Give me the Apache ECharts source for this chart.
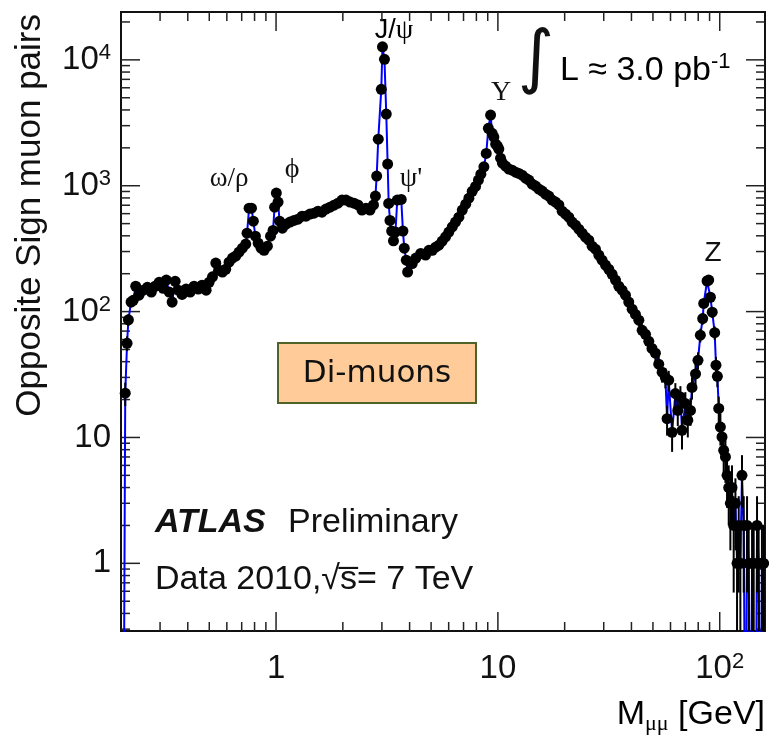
<!DOCTYPE html>
<html>
<head>
<meta charset="utf-8">
<script src="https://cdn.jsdelivr.net/npm/echarts@6/dist/echarts.min.js"></script>
</head>
<body style="margin:0;background:#fff">
<div id="chart" style="width:769px;height:740px"></div>
<script>
// invariant mass bins [GeV] and opposite-sign dimuon counts (0 = empty bin)
var mass = [
  0.205, 0.209, 0.213, 0.216, 0.222, 0.227, 0.233, 0.241, 0.252, 0.263, 0.274, 0.285, 0.297, 0.310, 0.320,
  0.330, 0.340, 0.351, 0.362, 0.377, 0.393, 0.410, 0.427, 0.446, 0.464, 0.484, 0.499, 0.517, 0.535, 0.554,
  0.573, 0.593, 0.614, 0.636, 0.658, 0.681, 0.705, 0.730, 0.740, 0.756, 0.775, 0.790, 0.807, 0.830, 0.856,
  0.883, 0.914, 0.944, 0.969, 0.985, 1.003, 1.021, 1.037, 1.068, 1.109, 1.156, 1.205, 1.256, 1.310, 1.365,
  1.422, 1.483, 1.546, 1.611, 1.679, 1.751, 1.825, 1.902, 1.983, 2.067, 2.155, 2.246, 2.341, 2.440, 2.543,
  2.651, 2.749, 2.805, 2.842, 2.889, 2.981, 3.018, 3.081, 3.139, 3.185, 3.219, 3.263, 3.320, 3.383, 3.453,
  3.519, 3.667, 3.733, 3.784, 3.864, 3.918, 4.015, 4.11, 4.27, 4.49, 4.72, 4.89, 5.06, 5.24, 5.42,
  5.61, 5.81, 6.01, 6.23, 6.44, 6.67, 6.91, 7.16, 7.40, 7.66, 7.93, 8.17, 8.38, 8.65, 8.86,
  9.06, 9.27, 9.42, 9.59, 9.77, 9.95, 10.1, 10.28, 10.48, 10.83, 11.21, 11.60, 12.02, 12.43, 12.87,
  13.33, 13.79, 14.27, 14.79, 15.30, 15.83, 16.40, 16.97, 17.56, 18.19, 18.83, 19.49, 20.18, 20.88, 21.61,
  22.39, 23.17, 23.98, 24.83, 25.70, 26.60, 27.54, 28.51, 29.50, 30.55, 31.62, 32.73, 33.9, 35.08, 36.3,
  37.6, 38.9, 40.3, 41.7, 43.2, 44.7, 46.3, 47.9, 49.5, 51.3, 53.1, 55.0, 56.9, 57.9, 58.9,
  61.0, 63.1, 64.7, 66.5, 67.6, 70.0, 71.8, 73.8, 75.0, 77.8, 79.8, 81.8, 83.8, 84.7, 87.7,
  89.2, 90.8, 92.5, 94.9, 96.2, 97.6, 99.0, 100.7, 102.4, 104.2, 106.1, 107.9, 109.8, 111.7, 113.6,
  115.6, 117.7, 119.7, 121.8, 123.9, 126.0, 128.3, 130.6, 132.8, 135.1, 137.5, 139.9, 142.3, 144.8, 147.3,
  149.8, 152.5, 155.0, 157.8
];
var counts = [
  0, 22.5, 56, 86, 119, 123, 159, 135, 148, 156, 143, 159, 171, 153, 178,
  143, 119, 174, 148, 137, 151, 143, 159, 151, 162, 148, 171, 189, 243, 213,
  206, 217, 247, 266, 276, 297, 319, 344, 420, 663, 663, 523, 397, 350, 319,
  307, 331, 397, 441, 676, 874, 741, 523, 460, 495, 514, 530, 542, 573, 573,
  595, 605, 627, 616, 652, 676, 701, 727, 769, 769, 741, 727, 704, 640, 663,
  640, 704, 827, 1192, 2345, 5830, 12700, 10090, 3710, 1486, 723, 530, 436, 365, 428,
  769, 778, 436, 319, 256, 206, 247, 241, 266, 290, 281, 307, 307, 325, 337,
  363, 393, 428, 472, 514, 563, 640, 714, 796, 902, 988, 1109, 1236, 1413, 1807,
  2857, 3640, 2606, 2433, 2142, 2065, 1954, 1656, 1513, 1432, 1355, 1330, 1282, 1252, 1214,
  1148, 1109, 1030, 993, 940, 906, 857, 827, 769, 741, 704, 628, 595, 563, 514,
  486, 452, 420, 390, 369, 331, 313, 281, 256, 234, 217, 198, 178, 159, 148,
  135, 119, 104.5, 95, 85.4, 71, 66, 58, 51, 46.7, 38.2, 33, 30, 14.1, 28.5,
  11, 22.3, 16.4, 21, 11.4, 18.6, 13.7, 16.4, 25, 32, 41, 65, 88, 116, 175,
  178, 130, 99, 68, 37.5, 30.6, 17, 12.1, 10.1, 7.9, 7, 5, 4, 3, 4,
  2, 3, 1, 2, 1, 5, 2, 0, 2, 1, 0, 1, 1, 0, 2,
  1, 0, 1, 1
];

var xMajor = [1, 10, 100];
var xMinor = [0.3, 0.4, 0.5, 0.6, 0.7, 0.8, 0.9, 2, 3, 4, 5, 6, 7, 8, 9, 20, 30, 40, 50, 60, 70, 80, 90];
var yMajor = [1, 10, 100, 1000, 10000];
var yMinor = [0.3, 0.4, 0.5, 0.6, 0.7, 0.8, 0.9, 2, 3, 4, 5, 6, 7, 8, 9, 20, 30, 40, 50, 60, 70, 80, 90,
  200, 300, 400, 500, 600, 700, 800, 900, 2000, 3000, 4000, 5000, 6000, 7000, 8000, 9000, 20000];

var X_MIN = 0.2, X_MAX = 160, Y_MIN = 0.29, Y_MAX = 24000;
var MAJOR_LEN = 19, MINOR_LEN = 9;
var SANS = 'Liberation Sans, Arial, Helvetica, sans-serif';
var SERIF = 'Liberation Serif, DejaVu Serif, serif';

var points = [], linePts = [];
for (var i = 0; i < mass.length; i++) {
  linePts.push([mass[i], counts[i] > 0 ? counts[i] : 0.01]);
  if (counts[i] > 0) points.push([mass[i], counts[i]]);
}

// tick entries: [x, y, length]
var xTicks = [], yTicks = [];
xMajor.forEach(function (v) { xTicks.push([v, Y_MIN, MAJOR_LEN]); });
xMinor.forEach(function (v) { xTicks.push([v, Y_MIN, MINOR_LEN]); });
yMajor.forEach(function (v) { yTicks.push([X_MIN, v, MAJOR_LEN]); });
yMinor.forEach(function (v) { yTicks.push([X_MIN, v, MINOR_LEN]); });

function powLabel(v) {
  var e = Math.round(Math.log(v) / Math.LN10);
  if (Math.abs(v - Math.pow(10, e)) > 1e-6 * v) return '';
  if (e === 0) return '{b|1}';
  if (e === 1) return '{b|10}';
  return '{b|10}{s|' + e + '}';
}
var labelRich = {
  b: {fontSize: 33, lineHeight: 36, fontFamily: SANS, color: '#111'},
  s: {fontSize: 22, lineHeight: 22, verticalAlign: 'top', fontFamily: SANS, color: '#111'}
};

var tickStyle = {stroke: '#222', lineWidth: 1.5};
function tickRenderer(isX) {
  return function (params, api) {
    var cs = params.coordSys;
    var p = api.coord([api.value(0), api.value(1)]);
    var len = api.value(2);
    var a, b;
    if (isX) {
      a = {x1: p[0], y1: cs.y + cs.height, x2: p[0], y2: cs.y + cs.height - len};
      b = {x1: p[0], y1: cs.y, x2: p[0], y2: cs.y + len};
    } else {
      a = {x1: cs.x, y1: p[1], x2: cs.x + len, y2: p[1]};
      b = {x1: cs.x + cs.width, y1: p[1], x2: cs.x + cs.width - len, y2: p[1]};
    }
    return {type: 'group', children: [
      {type: 'line', shape: a, style: tickStyle},
      {type: 'line', shape: b, style: tickStyle}
    ]};
  };
}

var chart = echarts.init(document.getElementById('chart'), null, {renderer: 'canvas'});
chart.setOption({
  animation: false,
  backgroundColor: '#fff',
  grid: {left: 121, top: 12, width: 644, height: 619, show: true,
         borderColor: '#111', borderWidth: 2, backgroundColor: 'transparent'},
  xAxis: {
    type: 'log', logBase: 10, min: X_MIN, max: X_MAX,
    axisLine: {show: false}, splitLine: {show: false}, axisTick: {show: false},
    axisLabel: {margin: 20, formatter: powLabel, rich: labelRich, showMinLabel: false, showMaxLabel: false}
  },
  yAxis: {
    type: 'log', logBase: 10, min: Y_MIN, max: Y_MAX,
    axisLine: {show: false}, splitLine: {show: false}, axisTick: {show: false},
    axisLabel: {margin: 10, formatter: powLabel, rich: labelRich, showMinLabel: false, showMaxLabel: false}
  },
  series: [
    {type: 'custom', data: xTicks, clip: false, z: 1, silent: true,
     encode: {x: 0, y: 1}, renderItem: tickRenderer(true)},
    {type: 'custom', data: yTicks, clip: false, z: 1, silent: true,
     encode: {x: 0, y: 1}, renderItem: tickRenderer(false)},
    {
      type: 'line', data: linePts, symbol: 'none', clip: true, z: 2,
      lineStyle: {color: '#0000ff', width: 2}
    },
    {
      type: 'custom', data: points, clip: true, z: 3,
      encode: {x: 0, y: 1},
      renderItem: function (params, api) {
        var m = api.value(0), n = api.value(1), e = Math.sqrt(n);
        var lo = n - e > 0 ? n - e : 0.01;
        var p1 = api.coord([m, lo]), p2 = api.coord([m, n + e]);
        return {type: 'line', shape: {x1: p1[0], y1: p1[1], x2: p2[0], y2: p2[1]},
                style: {stroke: '#000', lineWidth: 2}};
      }
    },
    {
      type: 'scatter', data: points, clip: true, z: 4,
      symbol: 'circle', symbolSize: 11,
      itemStyle: {color: '#000', opacity: 1}
    }
  ],
  graphic: [
    {type: 'text', x: 30, y: 14, rotation: Math.PI / 2,
     style: {text: 'Opposite Sign muon pairs', font: '35px ' + SANS, fill: '#111', align: 'right', verticalAlign: 'middle'}},
    {type: 'text', x: 765, y: 715,
     style: {text: '{m|M}{u|μμ}{m| [GeV]}', align: 'right', verticalAlign: 'middle',
             rich: {m: {fontSize: 34, lineHeight: 40, fontFamily: SANS, color: '#111'},
                    u: {fontSize: 22, lineHeight: 22, verticalAlign: 'bottom', fontFamily: SERIF, color: '#111'}}}},
    {type: 'text', x: 229, y: 179,
     style: {text: 'ω/ρ', font: '27px ' + SERIF, fill: '#111', align: 'center', verticalAlign: 'middle'}},
    {type: 'text', x: 292, y: 170,
     style: {text: 'ϕ', font: '28px ' + SERIF, fill: '#111', align: 'center', verticalAlign: 'middle'}},
    {type: 'text', x: 394, y: 31,
     style: {text: '{a|J/}{g|ψ}', align: 'center', verticalAlign: 'middle',
             rich: {a: {fontSize: 27, fontFamily: SANS, color: '#111'}, g: {fontSize: 28, fontFamily: SERIF, color: '#111'}}}},
    {type: 'text', x: 411, y: 179,
     style: {text: "ψ'", font: '28px ' + SERIF, fill: '#111', align: 'center', verticalAlign: 'middle'}},
    {type: 'text', x: 501, y: 93,
     style: {text: 'Υ', font: '28px ' + SERIF, fill: '#111', align: 'center', verticalAlign: 'middle'}},
    {type: 'text', x: 713, y: 253,
     style: {text: 'Z', font: '28px ' + SANS, fill: '#111', align: 'center', verticalAlign: 'middle'}},
    {type: 'text', x: 536, y: 62,
     style: {text: '∫', font: '70px DejaVu Sans', fill: '#111', align: 'center', verticalAlign: 'middle'}},
    {type: 'text', x: 560, y: 71,
     style: {text: '{t|L ≈ 3.0 pb}{s|-1}', align: 'left', verticalAlign: 'middle',
             rich: {t: {fontSize: 34, lineHeight: 40, fontFamily: SANS, color: '#111'},
                    s: {fontSize: 22, lineHeight: 22, verticalAlign: 'top', fontFamily: SANS, color: '#111'}}}},
    {type: 'text', x: 155, y: 523,
     style: {text: 'ATLAS', font: 'italic bold 34px ' + SANS, fill: '#111', align: 'left', verticalAlign: 'middle'}},
    {type: 'text', x: 288, y: 523,
     style: {text: 'Preliminary', font: '34px ' + SANS, fill: '#111', align: 'left', verticalAlign: 'middle'}},
    {type: 'text', x: 155, y: 580,
     style: {text: 'Data 2010,√s̅= 7 TeV', font: '34px ' + SANS, fill: '#111', align: 'left', verticalAlign: 'middle'}},
    {type: 'rect', shape: {x: 278, y: 343, width: 198, height: 60},
     style: {fill: '#FFCC99', stroke: '#4F6228', lineWidth: 2}},
    {type: 'text', x: 377, y: 374,
     style: {text: 'Di-muons', font: '31px DejaVu Sans', fill: '#111', align: 'center', verticalAlign: 'middle'}}
  ]
});
</script>
</body>
</html>
